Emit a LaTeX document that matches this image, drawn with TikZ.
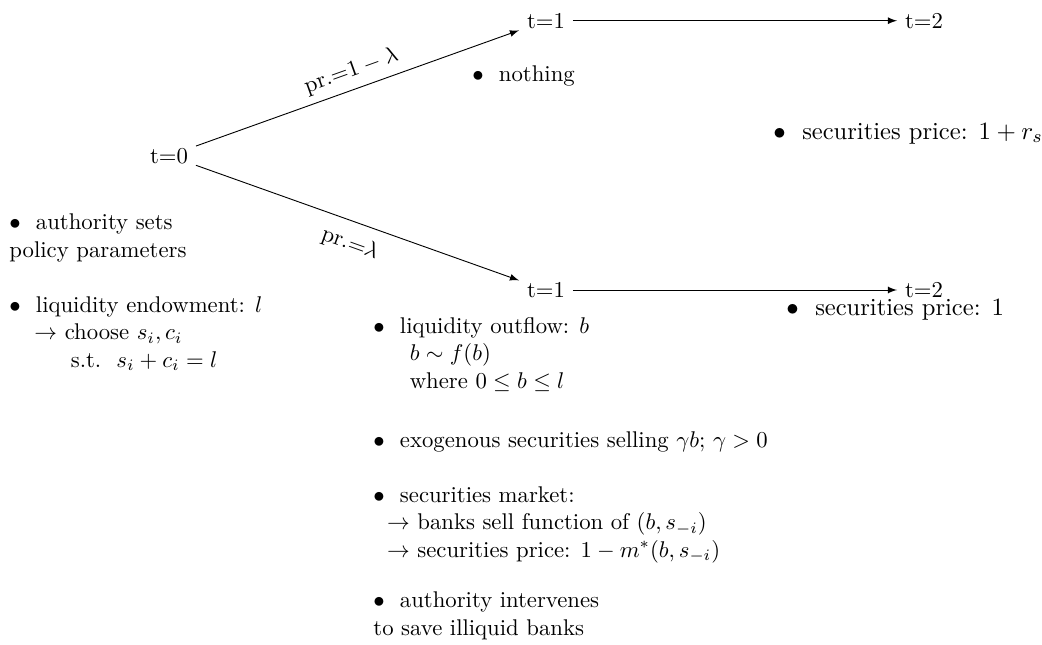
\documentclass[tikz,border=0pt]{standalone}
\usepackage{amsmath}
\begin{document}
\begin{tikzpicture}[x=0.44pt,y=-0.44pt,>=latex,
  tnode/.style={inner sep=0.333em},
  txt/.style={anchor=base west,inner sep=0pt,align=left},
  bigtxt/.style={txt,font=\fontsize{10.8}{13}\selectfont},
  lbl/.style={midway,sloped}]
\useasboundingbox (0,0) rectangle (1042,645);
% time nodes
\node[tnode] (t0) at (169,155.7) {t=0};
\node[tnode] (t1u) at (546,20.7) {t=1};
\node[tnode] (t2u) at (924,20.7) {t=2};
\node[tnode] (t1d) at (546,290) {t=1};
\node[tnode] (t2d) at (924,290) {t=2};
% connectors
\draw[->] (t0) -- node[lbl,above] {pr.=$1-\lambda$} (t1u);
\draw[->] (t0) -- node[lbl,below,yshift=-2pt] {pr.=$\lambda$} (t1d);
\draw[->] (t1u) -- (t2u);
\draw[->] (t1d) -- (t2d);
% texts
\node[txt] (nothing) at (472,82) {$\bullet$\ \ nothing};
\node[bigtxt] (priceu) at (773,139) {$\bullet$\ \ securities price: $1+r_s$};
\node[bigtxt] (priced) at (786,315) {$\bullet$\ \ securities price: $1$};
\node[txt] (auth) at (9,257) {$\bullet$\ \ authority sets\\policy parameters};
\node[txt] (endow) at (9,367) {$\bullet$\ \ liquidity endowment: $l$\\
  \hspace*{11pt}$\rightarrow$ choose $s_i,c_i$\\
  \hspace*{27pt}s.t.\ \ $s_i+c_i=l$};
\node[txt] (outflow) at (373,388) {$\bullet$\ \ liquidity outflow: $b$\\
  \hspace*{16pt}$b\sim f(b)$\\
  \hspace*{16pt}where $0\leq b\leq l$};
\node[txt] (exo) at (373,447) {$\bullet$\ \ exogenous securities selling $\gamma b$; $\gamma>0$};
\node[txt] (market) at (373,557) {$\bullet$\ \ securities market:\\
  \hspace*{6pt}$\rightarrow$ banks sell function of $(b,s_{-i})$\\
  \hspace*{6pt}$\rightarrow$ securities price: $1-m^*(b,s_{-i})$};
\node[txt] (interv) at (373,635) {$\bullet$\ \ authority intervenes\\to save illiquid banks};
\end{tikzpicture}
\end{document}
